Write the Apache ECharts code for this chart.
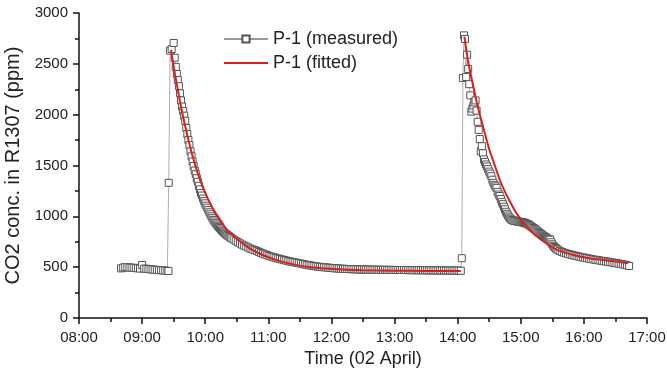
<!DOCTYPE html>
<html>
<head>
<meta charset="utf-8">
<script src="https://cdn.jsdelivr.net/npm/echarts@6/dist/echarts.min.js"></script>
<style>html,body{margin:0;padding:0;background:#fff;}#c{width:667px;height:374px;}</style>
</head>
<body>
<div id="c"></div>
<script>
// Time in minutes since midnight (02 April)
var measTimes = [
520,522,524,526,528,530,532,534,536,538,540,542,544,546,548,550,552,554,556,558,560,562,564,565,
565.3,566.6,568.1,570,
571,572,573,574,575,576,577,578,579,580,581,582,583,584,585,586,587,588,589,590,
591,592,593,594,595,596,597,598,599,600,601,602,603,604,605,606,607,608,609,610,
611,612,613,614,615,616,617,618,619,620,621,622,623,624,625,
627,629,631,633,635,637,639,641,643,645,647,649,651,653,655,657,659,661,663,665,
667,669,671,673,675,677,679,681,683,685,687,689,691,693,695,697,699,701,703,705,
707,709,711,713,715,717,719,721,723,725,727,729,731,733,735,737,739,741,743,745,
747,749,751,753,755,757,759,761,763,765,767,769,771,773,775,777,779,781,783,785,
787,789,791,793,795,797,799,801,803,805,807,809,811,813,815,817,819,821,823,825,
827,829,831,833,835,837,839,841,843,
843.9,845,846,847,848,
849,850,851,852,853,854,855,856,857,858,859,860,861,862,863,864,865,866,867,868,
869,870,871,872,873,874,875,876,877,878,879,880,881,882,883,884,885,886,887,888,
889,890,891,892,893,894,895,896,897,898,899,900,901,902,903,904,905,906,907,908,
909,910,911,912,913,914,915,916,917,918,919,920,921,922,923,924,925,926,927,928,
929,930,931,932,933,934,935,
937,939,941,943,945,947,949,951,953,955,957,959,961,963,965,967,969,971,973,975,
977,979,981,983,985,987,989,991,993,995,997,999,1001,1003
];
var measValues = [
488,496,500,499,496,495,494,491,489,487,521,486,484,481,479,477,475,473,471,470,468,466,464,462,
1330,2630,2645,2705,
2560,2470,2400,2340,2280,2210,2140,2080,2035,1990,1940,1870,1810,1750,1700,1640,1590,1540,1495,1450,
1415,1375,1340,1300,1265,1230,1205,1175,1150,1128,1105,1085,1062,1040,1020,1000,982,965,950,935,
920,908,896,885,872,860,850,840,831,822,815,807,800,792,785,
772,758,746,734,722,711,703,693,682,674,668,660,650,641,633,625,618,610,603,597,
591,586,581,575,570,565,560,555,551,547,543,539,535,530,526,522,518,515,512,508,
506,503,501,499,497,495,493,491,489,488,487,485,484,483,482,481,480,480,479,478,
478,477,477,476,476,476,475,475,475,474,474,474,474,473,473,473,473,472,472,472,
472,472,471,471,471,471,470,470,470,470,470,469,469,469,469,469,468,468,468,468,
468,467,467,467,467,466,466,466,465,
588,2360,2780,2745,2370,
2590,2450,2300,2190,2030,2060,2090,2120,2140,2040,1930,1850,1760,1640,1690,1620,1560,1535,1510,1490,
1465,1440,1420,1395,1360,1330,1310,1295,1280,1240,1215,1200,1170,1140,1120,1095,1070,1045,1025,1008,
990,978,968,962,958,956,955,952,950,948,946,944,942,940,938,935,930,926,922,915,
908,900,893,885,878,870,861,852,844,836,828,820,812,805,797,790,782,778,775,770,
745,725,710,698,688,680,672,
660,650,643,636,630,625,620,614,609,605,600,596,592,588,584,580,576,572,569,566,
562,559,556,553,549,546,543,539,536,532,528,524,518,512
];
var fitTimes1 = [567.5,570,573,576,580,585,590,595,600,605,610,615,620,630,640,650,660,670,685,700,715,730,750,780,810,843];
var fitValues1 = [2637,2470,2300,2130,1930,1710,1520,1360,1230,1120,1030,955,875,780,700,642,597,562,525,500,486,476,469,465,463,462];
var fitTimes2 = [846.4,850,855,860,865,870,875,880,885,890,895,900,905,912,920,930,940,950,962,978,990,1002];
var fitValues2 = [2767,2520,2270,2040,1850,1660,1510,1360,1240,1140,1045,970,910,830,765,695,650,620,593,571,555,538];
var xTicks = ['08:00','09:00','10:00','11:00','12:00','13:00','14:00','15:00','16:00','17:00'];
var yTicks = ['0','500','1000','1500','2000','2500','3000'];

function zip(a, b) { return a.map(function (t, i) { return [t, b[i]]; }); }
var fitData = zip(fitTimes1, fitValues1).concat([[844.5, null]]).concat(zip(fitTimes2, fitValues2));

var FONT = '"Liberation Sans", Arial, sans-serif';
var chart = echarts.init(document.getElementById('c'), null, {renderer: 'canvas'});
chart.setOption({
  animation: false,
  backgroundColor: '#fff',
  grid: {left: 79, right: 20, top: 13, bottom: 56, containLabel: false, outerBoundsMode: 'none'},
  legend: {
    orient: 'vertical', left: 218, top: 25, itemWidth: 44, itemHeight: 9, itemGap: 6,
    textStyle: {fontFamily: FONT, fontSize: 18, color: '#222'},
    data: [
      {name: 'P-1 (measured)'},
      {name: 'P-1 (fitted)', itemStyle: {opacity: 0}}
    ]
  },
  xAxis: {
    type: 'value', min: 480, max: 1020, interval: 60,
    name: 'Time (02 April)', nameLocation: 'middle', nameGap: 30,
    nameTextStyle: {fontFamily: FONT, fontSize: 18, color: '#222'},
    axisLine: {show: true, lineStyle: {color: '#111', width: 1.5}},
    axisTick: {show: true, inside: false, length: 6, lineStyle: {color: '#111', width: 1.5}},
    minorTick: {show: true, splitNumber: 2, length: 4, lineStyle: {color: '#111', width: 1.5}},
    splitLine: {show: false},
    axisLabel: {fontFamily: FONT, fontSize: 15, color: '#222', margin: 12,
      formatter: function (v) { return xTicks[Math.round((v - 480) / 60)]; }}
  },
  yAxis: {
    type: 'value', min: 0, max: 3000, interval: 500,
    name: 'CO2 conc. in R1307 (ppm)', nameLocation: 'middle', nameGap: 46, nameRotate: 90,
    nameTextStyle: {fontFamily: FONT, fontSize: 20, color: '#222'},
    axisLine: {show: true, lineStyle: {color: '#111', width: 1.5}},
    axisTick: {show: true, inside: false, length: 6, lineStyle: {color: '#111', width: 1.5}},
    minorTick: {show: true, splitNumber: 2, length: 4, lineStyle: {color: '#111', width: 1.5}},
    splitLine: {show: false},
    axisLabel: {fontFamily: FONT, fontSize: 15, color: '#222', margin: 11,
      formatter: function (v) { return yTicks[Math.round(v / 500)]; }}
  },
  series: [
    {
      name: 'P-1 (measured)', type: 'line', z: 2,
      data: zip(measTimes, measValues),
      symbol: 'rect', symbolSize: 7, showAllSymbol: true,
      lineStyle: {color: '#999', width: 0.8},
      itemStyle: {color: '#fff', borderColor: '#555', borderWidth: 1}
    },
    {
      name: 'P-1 (fitted)', type: 'line', z: 3,
      data: fitData, smooth: 0.3, connectNulls: false,
      symbol: 'none', showSymbol: false,
      lineStyle: {color: '#d8201e', width: 2},
      itemStyle: {color: '#d8201e'}
    }
  ]
});
</script>
</body>
</html>
